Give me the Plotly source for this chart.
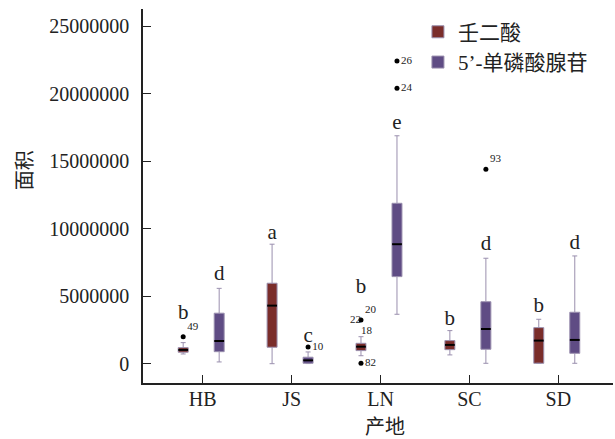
import plotly.graph_objects as go

# ---------------- data ----------------
categories = ["HB", "JS", "LN", "SC", "SD"]

# 壬二酸 (azelaic acid) box statistics
aze_q1 = [0.87e6, 1.24e6, 0.99e6, 1.06e6, 0.05e6]
aze_median = [1.04e6, 4.32e6, 1.28e6, 1.41e6, 1.73e6]
aze_q3 = [1.21e6, 5.98e6, 1.53e6, 1.73e6, 2.69e6]
aze_lower = [0.74e6, 0.02e6, 0.61e6, 0.67e6, 0.05e6]
aze_upper = [1.58e6, 8.87e6, 2.02e6, 2.47e6, 3.31e6]

# 5'-单磷酸腺苷 (AMP) box statistics
amp_q1 = [0.91e6, 0.05e6, 6.47e6, 1.09e6, 0.79e6]
amp_median = [1.70e6, 0.27e6, 8.87e6, 2.59e6, 1.78e6]
amp_q3 = [3.76e6, 0.50e6, 11.90e6, 4.61e6, 3.83e6]
amp_lower = [0.15e6, 0.03e6, 3.68e6, 0.05e6, 0.05e6]
amp_upper = [5.60e6, 0.89e6, 16.90e6, 7.83e6, 8.00e6]

# significance letters
aze_letters = ["b", "a", "b", "b", "b"]
aze_letter_y = [3.75e6, 9.65e6, 5.65e6, 3.25e6, 4.27e6]
amp_letters = ["d", "c", "e", "d", "d"]
amp_letter_y = [6.59e6, 2.0e6, 17.8e6, 8.81e6, 8.93e6]

# outliers (category, value, label, label position)
aze_out_cat = ["HB", "LN", "LN"]
aze_out_y = [2.02e6, 3.26e6, 0.05e6]
aze_out_label = ["49", "20", "82"]
aze_out_pos = ["top right", "top right", "middle right"]

amp_out_cat = ["JS", "LN", "LN", "SC"]
amp_out_y = [1.26e6, 22.44e6, 20.42e6, 14.42e6]
amp_out_label = ["10", "26", "24", "93"]
amp_out_pos = ["middle right", "middle right", "middle right", "top right"]

# extra labels without a visible dot
aze_extra_cat = ["LN", "LN"]
aze_extra_y = [3.26e6, 2.02e6]
aze_extra_label = ["22", "18"]
aze_extra_pos = ["middle left", "top right"]

# ---------------- styling ----------------
RED = "#7a2d2a"
PURPLE = "#5f4c84"
EDGE = "#9a8fae"
OFF_A = -0.22
OFF_B = 0.185
BW = 0.112
SERIF = "Liberation Serif, Times New Roman, Noto Sans CJK SC"

idx = {c: i for i, c in enumerate(categories)}
xa = [i + OFF_A for i in range(len(categories))]
xb = [i + OFF_B for i in range(len(categories))]

fig = go.Figure()

fig.add_trace(go.Box(
    name="壬二酸", x=xa, q1=aze_q1, median=aze_median, q3=aze_q3,
    lowerfence=aze_lower, upperfence=aze_upper,
    fillcolor=RED, line=dict(color=EDGE, width=1), width=BW,
    whiskerwidth=0.5, boxpoints=False, hoverinfo="skip"))
fig.add_trace(go.Box(
    name="5’-单磷酸腺苷", x=xb, q1=amp_q1, median=amp_median, q3=amp_q3,
    lowerfence=amp_lower, upperfence=amp_upper,
    fillcolor=PURPLE, line=dict(color=EDGE, width=1), width=BW,
    whiskerwidth=0.5, boxpoints=False, hoverinfo="skip"))

# median lines in black
fig.add_trace(go.Scatter(
    x=xa + xb, y=aze_median + amp_median, mode="markers", showlegend=False,
    marker=dict(symbol="line-ew", size=7, line=dict(color="black", width=2)),
    hoverinfo="skip"))

# outliers
for cats, ys, labels, pos, off, show in [
    (aze_out_cat, aze_out_y, aze_out_label, aze_out_pos, OFF_A, True),
    (amp_out_cat, amp_out_y, amp_out_label, amp_out_pos, OFF_B, True),
    (aze_extra_cat, aze_extra_y, aze_extra_label, aze_extra_pos, OFF_A, False),
]:
    fig.add_trace(go.Scatter(
        x=[idx[c] + off for c in cats], y=ys,
        mode="markers+text" if show else "text",
        text=labels, textposition=pos,
        textfont=dict(family=SERIF, size=11, color="#222"),
        marker=dict(color="black", size=5),
        showlegend=False, hoverinfo="skip", cliponaxis=False))

# letters
fig.add_trace(go.Scatter(
    x=xa + xb, y=aze_letter_y + amp_letter_y, mode="text",
    text=aze_letters + amp_letters, textposition="middle center",
    textfont=dict(family=SERIF, size=21, color="#222"),
    showlegend=False, hoverinfo="skip", cliponaxis=False))

fig.update_layout(
    width=615, height=439,
    margin=dict(l=143, r=2, t=9, b=56),
    paper_bgcolor="white", plot_bgcolor="white",
    font=dict(family=SERIF, size=20, color="#222"),
    boxmode="overlay",
    showlegend=True,
    legend=dict(x=0.585, y=0.993, xanchor="left", yanchor="top",
                font=dict(family=SERIF, size=21, color="#222"),
                bgcolor="rgba(0,0,0,0)", tracegroupgap=9),
    xaxis=dict(range=[-0.672, 4.615], tickmode="array",
               tickvals=list(range(len(categories))), ticktext=categories,
               showgrid=False, zeroline=False, showline=True,
               linecolor="#222", linewidth=1.5,
               ticks="inside", ticklen=8, tickcolor="#222", tickwidth=1,
               ticklabelstandoff=-3,
               tickfont=dict(family=SERIF, size=20, color="#222")),
    yaxis=dict(range=[-1.41e6, 26.29e6], tickmode="array",
               tickvals=[0, 5e6, 10e6, 15e6, 20e6, 25e6],
               ticktext=["0", "5000000", "10000000", "15000000", "20000000", "25000000"],
               showgrid=False, zeroline=False, showline=True,
               linecolor="#222", linewidth=1.5,
               ticks="inside", ticklen=8, tickcolor="#222", tickwidth=1,
               ticklabelstandoff=8,
               tickfont=dict(family=SERIF, size=20, color="#222")),
    annotations=[
        dict(text="面积", xref="paper", yref="paper", x=-0.255, y=0.5695,
             xanchor="center", yanchor="middle",
             showarrow=False, textangle=-90,
             font=dict(family="Noto Sans CJK SC", size=20, color="#222")),
        dict(text="产地", xref="paper", yref="paper", x=0.515, y=-0.113,
             xanchor="center", yanchor="middle",
             showarrow=False,
             font=dict(family="Noto Sans CJK SC", size=20, color="#222")),
    ],
)

fig.write_html("out.html")
